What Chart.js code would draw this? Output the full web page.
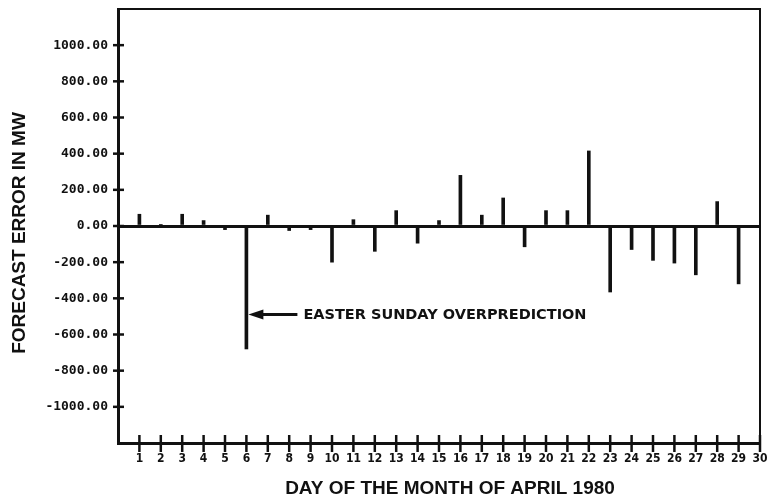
<!DOCTYPE html>
<html>
<head>
<meta charset="utf-8">
<script src="https://cdn.jsdelivr.net/npm/chart.js@4.4.1/dist/chart.umd.min.js"></script>
<style>
  html, body { margin: 0; padding: 0; background: #fff; }
  #wrap { width: 768px; height: 501px; }
</style>
</head>
<body>
<div id="wrap"><canvas id="myChart"></canvas></div>
<script>
// days of April 1980 and the forecast error in MW
var days = [1, 2, 3, 4, 5, 6, 7, 8, 9, 10, 11, 12, 13, 14, 15,
            16, 17, 18, 19, 20, 21, 22, 23, 24, 25, 26, 27, 28, 29, 30];
var errors = [65, 5, 65, 30, -20, -680, 60, -25, -20, -200, 35, -140, 85, -95, 30,
              280, 60, 155, -115, 85, 85, 415, -365, -130, -190, -205, -270, 135, -320, 0];
var yTicks = [-1000, -800, -600, -400, -200, 0, 200, 400, 600, 800, 1000];
var xTicks = days;

var xTitle = "DAY OF THE MONTH OF APRIL 1980";
var yTitle = "FORECAST ERROR IN MW";
var noteText = "EASTER SUNDAY OVERPREDICTION";
var noteDay = 6;
var noteValue = -490;

var ink = "#111";

var points = [];
for (var i = 0; i < days.length; i++) {
    points.push({x: days[i], y: errors[i]});
}

// ticks that cross the axis lines, top/right frame, titles and the arrow note
var framePlugin = {
    id: 'frame',
    afterDatasetsDraw: function(chart) {
        var ctx = chart.ctx;
        var a = chart.chartArea;
        var xs = chart.scales.x;
        var ys = chart.scales.y;
        ctx.save();
        ctx.strokeStyle = ink;
        ctx.fillStyle = ink;

        // top and right frame
        ctx.lineWidth = 2;
        ctx.beginPath();
        ctx.moveTo(a.left, a.top);
        ctx.lineTo(a.right, a.top);
        ctx.lineTo(a.right, a.bottom);
        ctx.stroke();

        // y tick marks
        ctx.lineWidth = 2.5;
        ys.ticks.forEach(function(t) {
            var py = ys.getPixelForValue(t.value);
            ctx.beginPath();
            ctx.moveTo(a.left - 5, py);
            ctx.lineTo(a.left + 6, py);
            ctx.stroke();
        });
        // x tick marks
        xs.ticks.forEach(function(t) {
            var px = xs.getPixelForValue(t.value);
            ctx.beginPath();
            ctx.moveTo(px, a.bottom - 8);
            ctx.lineTo(px, a.bottom + 9);
            ctx.stroke();
        });

        // axis titles
        ctx.font = "bold 19px 'Liberation Sans', Arial, sans-serif";
        ctx.textAlign = "center";
        ctx.textBaseline = "middle";
        ctx.fillText(xTitle, (a.left + a.right) / 2 + 11, a.bottom + 46);
        ctx.save();
        ctx.translate(20, (a.top + a.bottom) / 2 + 7);
        ctx.rotate(-Math.PI / 2);
        ctx.fillText(yTitle, 0, 0);
        ctx.restore();

        // arrow and note
        var nx = xs.getPixelForValue(noteDay);
        var ny = ys.getPixelForValue(noteValue);
        ctx.lineWidth = 3;
        ctx.beginPath();
        ctx.moveTo(nx + 14, ny);
        ctx.lineTo(nx + 51, ny);
        ctx.stroke();
        ctx.beginPath();
        ctx.moveTo(nx + 2, ny);
        ctx.lineTo(nx + 17, ny - 5);
        ctx.lineTo(nx + 17, ny + 5);
        ctx.closePath();
        ctx.fill();
        ctx.font = "bold 14.5px 'DejaVu Sans', sans-serif";
        ctx.textAlign = "left";
        ctx.fillText(noteText, nx + 57, ny + 1);
        ctx.restore();
    }
};

var config = {
    type: 'bar',
    data: {
        datasets: [{
            label: "Forecast error",
            data: points,
            backgroundColor: ink,
            borderWidth: 0,
            barThickness: 3,
            grouped: false
        }]
    },
    options: {
        responsive: true,
        maintainAspectRatio: false,
        animation: false,
        layout: { padding: { top: 9, right: 8, left: 0, bottom: 0 } },
        plugins: {
            legend: { display: false },
            tooltip: { enabled: false }
        },
        scales: {
            x: {
                type: 'linear',
                offset: false,
                min: 0,
                max: 30,
                afterBuildTicks: function(scale) {
                    scale.ticks = xTicks.map(function(v) { return {value: v}; });
                },
                afterFit: function(scale) {
                    scale.height = 58;
                    scale.paddingLeft = 0;
                    scale.paddingRight = 0;
                },
                grid: { display: false, drawTicks: false },
                border: { display: true, color: ink, width: 3 },
                ticks: {
                    autoSkip: false,
                    maxRotation: 0,
                    padding: 9,
                    color: ink,
                    font: { family: "'DejaVu Sans Condensed', 'Liberation Sans Narrow', sans-serif", size: 12, weight: 'bold' },
                    callback: function(v) { return String(v); }
                }
            },
            y: {
                min: -1200,
                max: 1200,
                afterBuildTicks: function(scale) {
                    scale.ticks = yTicks.map(function(v) { return {value: v}; });
                },
                afterFit: function(scale) {
                    scale.width = 118;
                    scale.paddingTop = 0;
                    scale.paddingBottom = 0;
                },
                grid: {
                    drawTicks: false,
                    color: function(c) { return c.tick && c.tick.value === 0 ? ink : 'rgba(0,0,0,0)'; },
                    lineWidth: function(c) { return c.tick && c.tick.value === 0 ? 3 : 0; }
                },
                border: { display: true, color: ink, width: 3 },
                ticks: {
                    padding: 10,
                    color: ink,
                    font: { family: "'DejaVu Sans Mono', monospace", size: 13, weight: 'bold' },
                    callback: function(v) { return v.toFixed(2); }
                }
            }
        }
    },
    plugins: [framePlugin]
};

var myChart = new Chart(document.getElementById('myChart'), config);
</script>
</body>
</html>
